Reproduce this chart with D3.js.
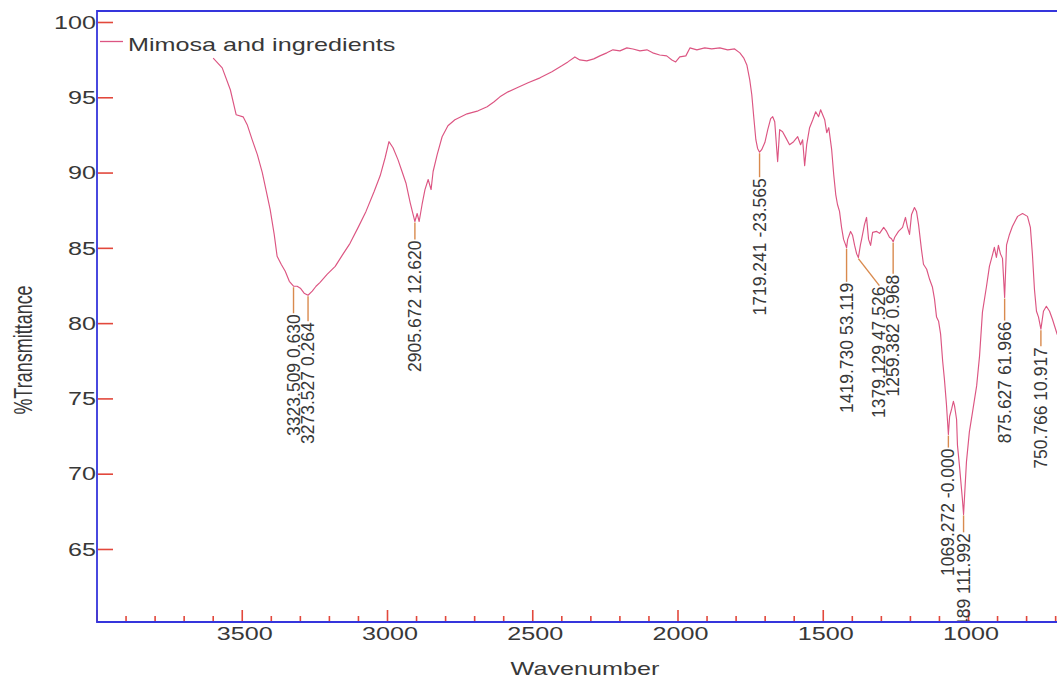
<!DOCTYPE html>
<html><head><meta charset="utf-8">
<script src="https://cdn.jsdelivr.net/npm/d3@7"></script>
<style>
body{margin:0;background:#fff}
svg{display:block}
text{font-family:"Liberation Sans",Arial,Helvetica,sans-serif}
</style>
</head><body>
<svg id="chart" width="1057" height="679"></svg>
<script>
// ---------------- DATA ----------------
const seriesName = "Mimosa and ingredients";
const xTitle = "Wavenumber";
const yTitle = "%Transmittance";

const wavenumber = [
 3600,3569,3541,3521,3497,3483,3466,3448,3431,3417,3404,3390,3380,3366,3352,3338,3323.509,3311,3300,3287,3273.527,3259,3246,3232,3208,3180,3156,3129,3101,3074,3046,3025,3008,2995,2981,2964,2950,2936,2922,2912,2905.672,2898,2891,2881,2871,2860,2850,2843,2829,2812,2792,2768,2726,2688,2657,2633,2613,2585,2554,2516,2475,2434,2400,2379,2355,2338,2314,2290,2269,2245,2224,2200,2176,2155,2131,2107,2087,2063,2039,2021,2008,1994,1973,1959,1935,1908,1884,1856,1829,1805,1787,1774,1763,1753,1746,1739,1732,1726,1719.241,1712,1701,1691,1681,1674,1667,1660,1657,1650,1640,1629,1616,1602,1588,1578,1571,1564,1557,1547,1536,1526,1516,1509,1502,1495,1488,1481,1471,1464,1457,1451,1444,1437,1430,1423,1419.730,1416,1406,1399,1392,1385,1379.129,1372,1368,1358,1351,1344,1337,1330,1316,1306,1292,1282,1272,1265,1259.382,1254,1241,1227,1217,1210,1203,1196,1186,1179,1172,1162,1155,1144,1134,1124,1117,1110,1103,1096,1089,1083,1076,1069.272,1065,1058,1052,1048,1041,1038,1031,1021,1017,1007,997,986,972,962,952,938,928,917,911,904,897,890,883,875.627,869,859,849,831,814,797,787,780,773,766,759,750.766,742,732,721,711,695,680
];
const transmittance = [
 97.6,96.95,95.5,93.84,93.7,93.18,92.19,91.19,90.0,88.74,87.55,85.89,84.44,83.91,83.44,82.78,82.45,82.45,82.32,81.99,81.85,82.12,82.45,82.71,83.24,83.77,84.5,85.3,86.36,87.42,88.74,89.8,91.0,92.05,91.65,90.86,90.07,89.27,88.01,87.22,86.75,87.28,86.75,87.88,88.87,89.54,88.87,90.07,91.19,92.38,93.11,93.51,93.9,94.1,94.37,94.7,95.03,95.36,95.63,95.96,96.29,96.69,97.09,97.35,97.68,97.48,97.42,97.55,97.75,97.95,98.15,98.08,98.28,98.21,98.08,98.15,97.95,97.81,97.75,97.48,97.35,97.68,97.75,98.28,98.15,98.28,98.21,98.28,98.15,98.21,97.95,97.62,97.15,96.16,95.17,93.64,92.18,91.6,91.35,91.52,91.99,92.85,93.58,93.71,93.38,91.52,90.73,92.85,92.71,92.32,91.85,92.05,92.38,91.85,92.18,90.46,91.85,92.98,93.51,94.04,93.71,94.17,93.84,93.51,92.65,92.98,91.52,89.87,88.54,87.88,87.42,86.36,85.56,85.2,85.0,85.56,86.09,85.83,85.16,84.6,84.35,85.2,85.56,86.56,87.02,85.56,85.16,86.03,86.09,85.96,86.36,86.09,85.7,85.6,85.4,85.7,86.09,86.36,87.02,86.36,85.89,87.22,87.68,87.42,86.56,84.9,83.91,83.58,82.91,82.38,81.59,80.4,80.13,79.27,77.48,76.3,74.63,72.6,73.8,74.3,74.8,74.5,73.6,71.9,70.5,68.3,67.3,70.8,72.78,74.1,75.83,77.81,80.73,82.45,83.77,84.57,85.03,84.37,85.16,84.6,84.3,81.7,85.2,85.89,86.42,87.09,87.28,87.09,86.36,84.57,82.25,80.79,80.4,79.6,80.79,81.12,80.79,80.26,79.27,78.8
];

// peak picks: wavenumber and annotation text
const peakWavenumber = [3323.509,3273.527,2905.672,1719.241,1419.730,1379.129,1259.382,1069.272,1017,875.627,750.766];
const peakLabelWave  = ["3323.509","3273.527","2905.672","1719.241","1419.730","1379.129","1259.382","1069.272","1016.489","875.627","750.766"];
const peakLabelValue = ["0.630","0.264","12.620","-23.565","53.119","47.526","0.968","-0.000","111.992","61.966","10.917"];

const yTickValues = [65,70,75,80,85,90,95,100];
const xLabelValues = [3500,3000,2500,2000,1500,1000];

// ---------------- LAYOUT ----------------
const W = 1057, H = 679;
const plot = {left: 97, top: 11, bottom: 622, right: W};
const labelDrop  = [27,26,18,25,34,28,32,13,18,23,17];
const labelShift = [0,0,0,0,0,21,0,0,0,0,0];
const axisBlue = "#3535dc", tickRed = "#e2483c", lineCol = "#dc5582",
      pickCol = "#d98a4e", textCol = "#383838";
const stretch = 1.4;

const svg = d3.select("#chart");
svg.append("rect").attr("width", W).attr("height", H).attr("fill", "#fff");

const x = d3.scaleLinear().domain([4000, 600]).range([plot.left, plot.left + 3400 * 0.2905]);
const y = d3.scaleLinear().domain([60.15, 100.73]).range([plot.bottom, plot.top]);

svg.append("clipPath").attr("id", "clip")
  .append("rect").attr("x", plot.left).attr("y", plot.top)
  .attr("width", plot.right - plot.left).attr("height", plot.bottom - plot.top - 1);

// ---- y axis ticks/labels
const yAxis = d3.axisLeft(y).tickValues(yTickValues).tickSize(0).tickPadding(0);
const gy = svg.append("g").attr("transform", `translate(${plot.left},0)`).call(yAxis);
gy.select(".domain").remove();
gy.selectAll(".tick text")
  .attr("x", null).attr("dy", "0.35em")
  .attr("transform", `translate(-1,0) scale(${stretch},1)`)
  .attr("text-anchor", "end")
  .attr("font-size", 18).attr("font-family", '"Liberation Sans",Arial,sans-serif')
  .attr("fill", textCol);
gy.selectAll(".tick").append("line")
  .attr("x1", 1).attr("x2", 16).attr("stroke", tickRed).attr("stroke-width", 1.6);

// ---- x axis ticks
const minorTicks = d3.range(4000, 600, -100);
svg.append("g").selectAll("line").data(minorTicks).join("line")
  .attr("x1", d => x(d)).attr("x2", d => x(d))
  .attr("y1", plot.bottom).attr("y2", d => plot.bottom - (d % 500 === 0 ? 12 : 6))
  .attr("stroke", tickRed).attr("stroke-width", 1.6);

const xAxis = d3.axisBottom(x).tickValues(xLabelValues).tickSize(0).tickPadding(0).tickFormat(d3.format("d"));
const gx = svg.append("g").attr("transform", `translate(0,${plot.bottom})`).call(xAxis);
gx.select(".domain").remove();
gx.selectAll(".tick text")
  .attr("y", null).attr("dy", null)
  .attr("transform", `translate(2,18) scale(${stretch},1)`)
  .attr("font-size", 18).attr("font-family", '"Liberation Sans",Arial,sans-serif')
  .attr("fill", textCol);

// ---- frame (blue)
svg.append("path")
  .attr("d", `M${plot.right},${plot.top}H${plot.left}V${plot.bottom}H${plot.right}`)
  .attr("fill", "none").attr("stroke", axisBlue).attr("stroke-width", 1.8);

// ---- spectrum line
const pts = wavenumber.map((w, i) => [w, transmittance[i]]);
const line = d3.line().x(d => x(d[0])).y(d => y(d[1]));
svg.append("path").datum(pts).attr("clip-path", "url(#clip)")
  .attr("d", line).attr("fill", "none")
  .attr("stroke", lineCol).attr("stroke-width", 1.15).attr("stroke-linejoin", "round");

// ---- peak pick annotations
const asc = pts.slice().reverse();
const bis = d3.bisector(d => d[0]).left;
function tAt(w) {
  const i = bis(asc, w);
  if (i <= 0) return asc[0][1];
  if (i >= asc.length) return asc[asc.length - 1][1];
  const a = asc[i - 1], b = asc[i];
  return a[1] + (b[1] - a[1]) * (w - a[0]) / (b[0] - a[0]);
}
const gp = svg.append("g").attr("clip-path", "url(#clip)");
peakWavenumber.forEach((w, i) => {
  const px = x(w), py = y(tAt(w));
  const ex = px + labelShift[i], ey = py + labelDrop[i];
  gp.append("line").attr("x1", px).attr("y1", py + 1).attr("x2", ex).attr("y2", ey)
    .attr("stroke", pickCol).attr("stroke-width", 1.4);
  gp.append("text")
    .attr("transform", `translate(${ex + 6},${ey + 1}) rotate(-90)`)
    .attr("text-anchor", "end").attr("font-size", 17.5).attr("fill", textCol)
    .text(peakLabelWave[i] + " " + peakLabelValue[i]);
});

// ---- legend
svg.append("line").attr("x1", 100).attr("x2", 123).attr("y1", 41.5).attr("y2", 41.5)
  .attr("stroke", lineCol).attr("stroke-width", 1.3);
svg.append("text").attr("transform", `translate(128,50.5) scale(${stretch},1)`)
  .attr("font-size", 18).attr("fill", textCol).text(seriesName);

// ---- axis titles
svg.append("text").attr("transform", `translate(585,675) scale(${stretch},1)`)
  .attr("text-anchor", "middle").attr("font-size", 18).attr("fill", textCol).text(xTitle);
svg.append("text").attr("transform", `translate(32,350) scale(${stretch},1) rotate(-90)`)
  .attr("text-anchor", "middle").attr("font-size", 18).attr("fill", textCol).text(yTitle);
</script>
</body></html>
